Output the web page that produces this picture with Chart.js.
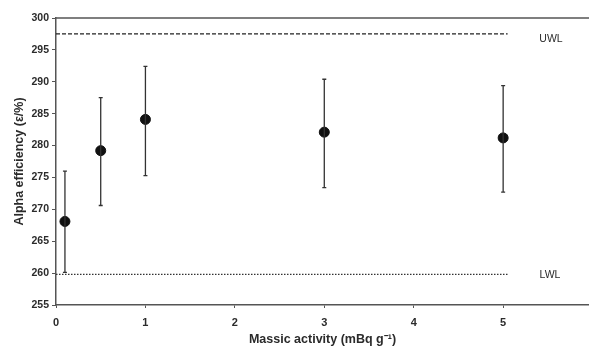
<!DOCTYPE html>
<html>
<head>
<meta charset="utf-8">
<script src="https://cdn.jsdelivr.net/npm/chart.js@4.4.1/dist/chart.umd.min.js"></script>
<style>
  html, body { margin: 0; padding: 0; background: #fff; }
  #wrap { width: 589px; height: 347px; position: relative; }
</style>
</head>
<body>
<div id="wrap"><canvas id="chart"></canvas></div>
<script>
// --- DATA ---
const activity = [0.1, 0.5, 1, 3, 5];
const efficiency = [268.1, 279.2, 284.1, 282.1, 281.2];
const errLow = [260.1, 270.6, 275.3, 273.4, 272.7];
const errHigh = [276.0, 287.5, 292.4, 290.4, 289.4];
const limitX = [0, 5.05];
const uwl = [297.5, 297.5];
const lwl = [259.8, 259.8];
const xTicks = [0, 1, 2, 3, 4, 5];

const AXIS_COLOR = '#555';
const TEXT_COLOR = '#2b2b2b';
const FONT = 'Arial, "Liberation Sans", sans-serif';

// error bars + top border + limit labels
const extras = {
    id: 'extras',
    afterDatasetsDraw(chart) {
        const { ctx, scales: { x, y }, chartArea } = chart;
        ctx.save();
        ctx.strokeStyle = '#333';
        ctx.lineWidth = 1.3;
        activity.forEach((a, i) => {
            const px = x.getPixelForValue(a);
            const top = y.getPixelForValue(errHigh[i]);
            const bot = y.getPixelForValue(errLow[i]);
            ctx.beginPath();
            ctx.moveTo(px, top); ctx.lineTo(px, bot);
            ctx.moveTo(px - 2, top); ctx.lineTo(px + 2, top);
            ctx.moveTo(px - 2, bot); ctx.lineTo(px + 2, bot);
            ctx.stroke();
        });
        // top frame line
        ctx.strokeStyle = AXIS_COLOR;
        ctx.lineWidth = 1.5;
        ctx.beginPath();
        ctx.moveTo(chartArea.left, chartArea.top);
        ctx.lineTo(chartArea.right, chartArea.top);
        ctx.stroke();
        // labels
        ctx.fillStyle = TEXT_COLOR;
        ctx.font = '10.5px ' + FONT;
        ctx.textAlign = 'center';
        ctx.textBaseline = 'middle';
        ctx.fillText('UWL', 551, y.getPixelForValue(uwl[0]) + 5);
        ctx.fillText('LWL', 550, y.getPixelForValue(lwl[0]) + 1);
        ctx.restore();
    }
};

new Chart(document.getElementById('chart'), {
    type: 'scatter',
    data: {
        datasets: [
            {
                label: 'UWL',
                type: 'line',
                data: limitX.map((v, i) => ({ x: v, y: uwl[i] })),
                borderColor: '#222',
                borderWidth: 1.3,
                borderDash: [4, 2],
                pointRadius: 0,
                fill: false
            },
            {
                label: 'LWL',
                type: 'line',
                data: limitX.map((v, i) => ({ x: v, y: lwl[i] })),
                borderColor: '#333',
                borderWidth: 1.3,
                borderDash: [1.5, 1.5],
                pointRadius: 0,
                fill: false
            },
            {
                label: 'Alpha efficiency',
                data: activity.map((v, i) => ({ x: v, y: efficiency[i] })),
                backgroundColor: '#111',
                borderColor: '#111',
                pointRadius: 5,
                pointHoverRadius: 5
            }
        ]
    },
    options: {
        responsive: true,
        maintainAspectRatio: false,
        animation: false,
        layout: { autoPadding: false, padding: { top: 18, right: 0, left: 0, bottom: 0 } },
        plugins: {
            legend: { display: false },
            tooltip: { enabled: false }
        },
        scales: {
            x: {
                type: 'linear',
                min: 0,
                max: 5.96,
                afterBuildTicks: (scale) => { scale.ticks = xTicks.map(v => ({ value: v })); },
                afterFit: (scale) => { scale.height = 42; },
                border: { display: true, color: AXIS_COLOR, width: 1.5 },
                grid: { drawOnChartArea: false, drawTicks: true, tickLength: 3, color: AXIS_COLOR },
                ticks: {
                    color: TEXT_COLOR,
                    padding: 8,
                    maxRotation: 0,
                    font: { family: FONT, size: 11, weight: 'bold' }
                },
                title: {
                    display: true,
                    text: 'Massic activity (mBq g\u207B\u00B9)',
                    color: TEXT_COLOR,
                    padding: { top: 0, bottom: 0 },
                    font: { family: FONT, size: 12.5, weight: 'bold' }
                }
            },
            y: {
                min: 255,
                max: 300,
                afterFit: (scale) => { scale.width = 56; },
                border: { display: true, color: AXIS_COLOR, width: 1.5 },
                grid: { drawOnChartArea: false, drawTicks: true, tickLength: 4, color: AXIS_COLOR },
                ticks: {
                    stepSize: 5,
                    color: TEXT_COLOR,
                    padding: 3,
                    font: { family: FONT, size: 10.5, weight: 'bold' }
                },
                title: {
                    display: true,
                    text: 'Alpha efficiency (\u03B5/%)',
                    color: TEXT_COLOR,
                    padding: { top: 12, bottom: 2 },
                    font: { family: FONT, size: 12.5, weight: 'bold' }
                }
            }
        }
    },
    plugins: [extras]
});
</script>
</body>
</html>
